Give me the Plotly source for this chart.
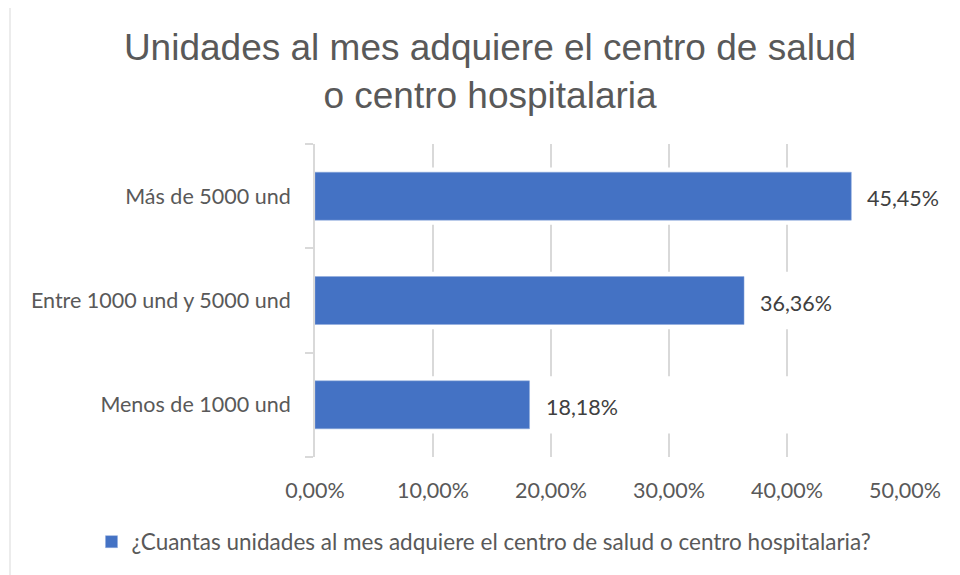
"""Horizontal bar chart — unidades al mes que adquiere el centro de salud."""

import plotly.graph_objects as go

# ── data ──────────────────────────────────────────────────────────────────────
categories = ['Menos de 1000 und', 'Entre 1000 und y 5000 und', 'Más de 5000 und']
shares     = [0.1818, 0.3636, 0.4545]
x_max      = 0.5
series     = '¿Cuantas unidades al mes adquiere el centro de salud o centro hospitalaria?'
title_text = 'Unidades al mes adquiere el centro de salud<br>o centro hospitalaria'

_BLUE  = '#4472c4'
_GRID  = '#d9d9d9'
_TXT   = '#595959'
_FONT  = 'Lato, Calibri, Carlito, sans-serif'

# the page body adds an 8px margin, so work in window pixels minus that
OFF = 8
W, H = 960 - OFF, 575 - OFF
L, R, T, B = 315 - OFF, 960 - 905, 144 - OFF, 575 - 457
pw, ph = W - L - R, H - T - B


def px_x(p):
    return (p - OFF - L) / pw


def px_y(p):
    return (H - B - (p - OFF)) / ph


fig = go.Figure()

# white band behind each bar row (the reference's gridlines break there)
fig.add_trace(go.Bar(
    x=[x_max] * len(categories), y=categories, orientation='h',
    width=0.55, marker=dict(color='white', line_width=0),
    showlegend=False, hoverinfo='skip',
))

fig.add_trace(go.Bar(
    x=shares, y=categories, orientation='h',
    width=0.46, name=series,
    marker=dict(color=_BLUE, line=dict(color='#8faadc', width=0.5)),
))

for cat, v in zip(categories, shares):
    fig.add_annotation(
        x=v, y=cat, text=f'{v * 100:.2f}%'.replace('.', ','),
        showarrow=False, xanchor='left', xshift=14, yshift=-2,
        font=dict(family=_FONT, size=21.5, color='#404040'),
    )

# outer chart border
fig.add_shape(
    type='rect', xref='paper', yref='paper',
    x0=px_x(10), x1=px_x(975), y0=px_y(4), y1=px_y(590),
    line=dict(color=_GRID, width=1), fillcolor='rgba(0,0,0,0)',
)

fig.update_layout(
    width=W, height=H,
    margin=dict(l=L, r=R, t=T, b=B),
    paper_bgcolor='white', plot_bgcolor='white',
    separators=',.',
    barmode='overlay',
    title=dict(
        text=title_text, x=(490 - OFF) / W, xanchor='center',
        y=1 - (60 - OFF) / H, yanchor='middle',
        font=dict(family='Liberation Sans, Arial, sans-serif', size=37, color=_TXT),
    ),
    xaxis=dict(
        range=[0, x_max], dtick=0.1, tickformat='.2%',
        showgrid=True, gridcolor=_GRID, gridwidth=2,
        zeroline=False, showline=False, ticks='',
        tickfont=dict(family=_FONT, size=21.5, color=_TXT),
        ticklabelstandoff=18,
        fixedrange=True,
    ),
    yaxis=dict(
        showline=True, linecolor=_GRID, linewidth=2,
        ticks='outside', tickson='boundaries', ticklen=8, tickcolor=_GRID, tickwidth=2,
        showgrid=False, zeroline=False,
        tickfont=dict(family=_FONT, size=21.5, color=_TXT),
        ticklabelstandoff=18,
        fixedrange=True,
    ),
    legend=dict(
        orientation='h', x=px_x(484), xanchor='center',
        y=px_y(542), yanchor='middle',
        font=dict(family=_FONT, size=22.5, color=_TXT),
        itemwidth=30,
    ),
    showlegend=True,
)

fig.write_html('out.html')
